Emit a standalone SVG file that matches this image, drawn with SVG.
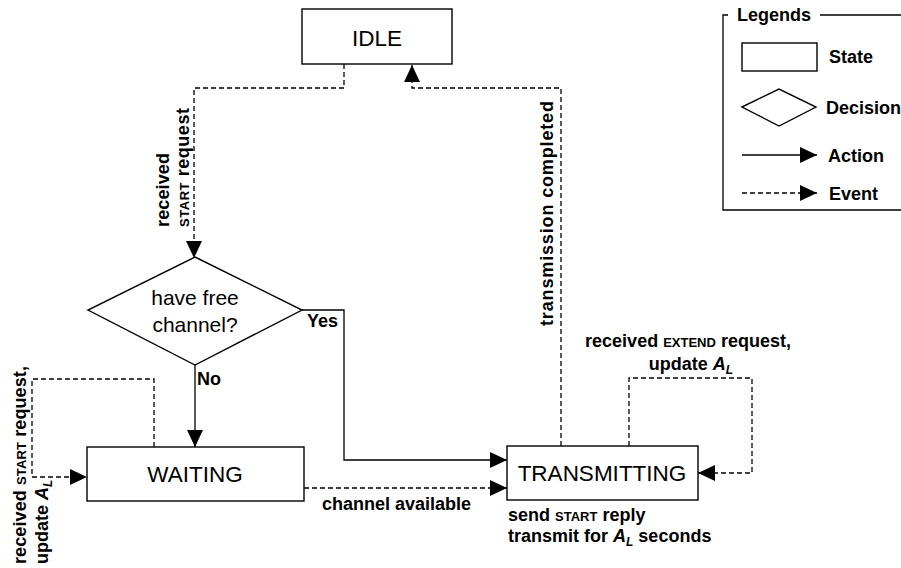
<svg xmlns="http://www.w3.org/2000/svg" width="901" height="568" viewBox="0 0 901 568">
<style>
  .box { fill: #fff; stroke: #000; stroke-width: 1.4; }
  .solid { fill: none; stroke: #000; stroke-width: 1.3; }
  .dash { fill: none; stroke: #000; stroke-width: 1.3; stroke-dasharray: 5 3; }
  .state { font-family: "Liberation Sans", Arial, sans-serif; font-size: 22.5px; fill: #000; text-anchor: middle; }
  .dec { font-family: "Liberation Sans", Arial, sans-serif; font-size: 21px; fill: #000; text-anchor: middle; }
  .lbl { font-family: "Liberation Sans", Arial, sans-serif; font-size: 18px; font-weight: bold; fill: #000; }
  .sc { font-size: 13px; }
  .it { font-style: italic; }
  .sub { font-style: italic; font-size: 12px; }
</style>
<defs>
  <marker id="ah" markerUnits="userSpaceOnUse" markerWidth="18" markerHeight="16" refX="17" refY="8" orient="auto">
    <path d="M0,0 L17,8 L0,16 Z" fill="#000"/>
  </marker>
</defs>

<g id="connectors">
  <!-- IDLE -> decision (event) -->
  <polyline class="dash" points="344,64 344,88 194,88 194,258" marker-end="url(#ah)"/>
  <!-- TRANSMITTING -> IDLE (event) -->
  <polyline class="dash" points="561,446 561,88 412,88 412,65" marker-end="url(#ah)"/>
  <!-- decision Yes -> TRANSMITTING -->
  <polyline class="solid" points="302,310 344,310 344,460 507,460" marker-end="url(#ah)"/>
  <!-- decision No -> WAITING -->
  <polyline class="solid" points="195,365 195,447" marker-end="url(#ah)"/>
  <!-- WAITING -> TRANSMITTING (event) -->
  <polyline class="dash" points="304,488 507,488" marker-end="url(#ah)"/>
  <!-- WAITING self loop -->
  <polyline class="dash" points="154,447 154,379 32,379 32,477 87,477" marker-end="url(#ah)"/>
  <!-- TRANSMITTING self loop -->
  <polyline class="dash" points="629,446 629,378 752,378 752,473 698,473" marker-end="url(#ah)"/>

  <!-- labels -->
  <text class="lbl" transform="translate(169,227) rotate(-90)" textLength="74">received</text>
  <text class="lbl" transform="translate(189,227) rotate(-90)" textLength="119"><tspan class="sc">START</tspan> request</text>
  <text class="lbl" transform="translate(553,326) rotate(-90)" textLength="225">transmission completed</text>
  <text class="lbl" x="307" y="327" font-size="16">Yes</text>
  <text class="lbl" x="197" y="385" font-size="16">No</text>
  <text class="lbl" x="322" y="510">channel available</text>
  <text class="lbl" transform="translate(26,564) rotate(-90)" textLength="198">received <tspan class="sc">START</tspan> request,</text>
  <text class="lbl" transform="translate(48,564) rotate(-90)">update <tspan class="it">A</tspan><tspan class="sub" dy="4">L</tspan></text>
  <text class="lbl" x="688" y="347" text-anchor="middle">received <tspan class="sc">EXTEND</tspan> request,</text>
  <text class="lbl" x="691" y="370" text-anchor="middle">update <tspan class="it">A</tspan><tspan class="sub" dy="4">L</tspan></text>
</g>

<g id="idle">
  <rect class="box" x="302" y="9" width="150" height="55"/>
  <text class="state" x="377" y="46">IDLE</text>
</g>

<g id="decision">
  <polygon class="box" points="195,257 302,310 195,365 88,310"/>
  <text class="dec" x="195" y="305">have free</text>
  <text class="dec" x="195" y="332">channel?</text>
</g>

<g id="waiting">
  <rect class="box" x="87" y="447" width="217" height="54"/>
  <text class="state" x="195" y="482">WAITING</text>
</g>

<g id="transmitting">
  <rect class="box" x="507" y="446" width="191" height="54"/>
  <text class="state" x="602" y="481">TRANSMITTING</text>
  <text class="lbl" x="508" y="521">send <tspan class="sc">START</tspan> reply</text>
  <text class="lbl" x="508" y="542">transmit for <tspan class="it">A</tspan><tspan class="sub" dy="4">L</tspan><tspan dy="-4"> seconds</tspan></text>
</g>

<g id="legend">
  <polyline class="solid" points="728,15 723,15 723,210 901,210" stroke-width="1.2"/>
  <line class="solid" x1="820" y1="15" x2="901" y2="15" stroke-width="1.2"/>
  <text class="lbl" x="737" y="21">Legends</text>
  <rect class="box" x="742" y="43" width="75" height="28"/>
  <text class="lbl" x="829" y="63">State</text>
  <polygon class="box" points="742,107 779,89 816,107 779,126"/>
  <text class="lbl" x="826" y="114">Decision</text>
  <line class="solid" x1="742" y1="155" x2="817" y2="155" marker-end="url(#ah)"/>
  <text class="lbl" x="828" y="162">Action</text>
  <line class="dash" x1="742" y1="193" x2="817" y2="193" marker-end="url(#ah)"/>
  <text class="lbl" x="829" y="200">Event</text>
</g>
</svg>
